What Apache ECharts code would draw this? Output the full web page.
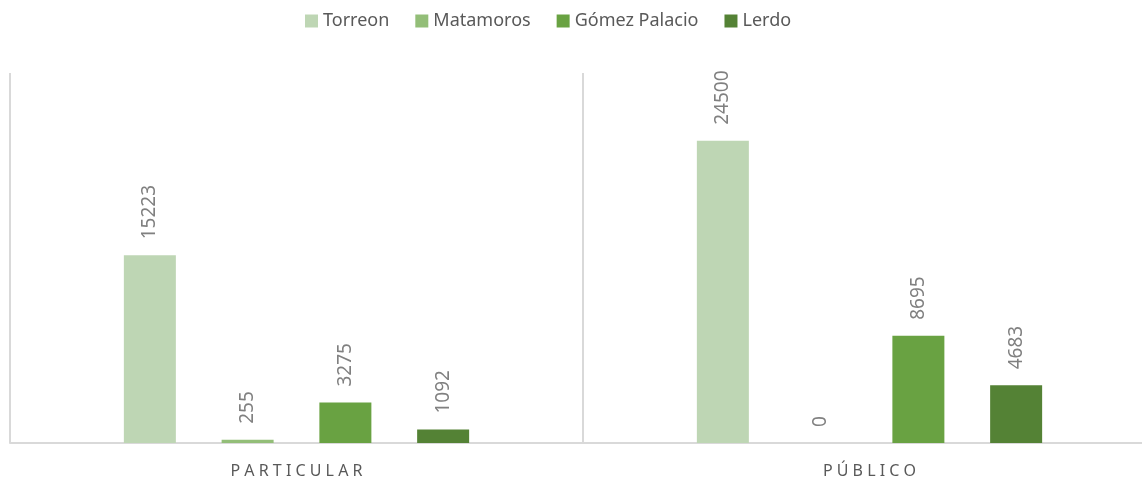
<!DOCTYPE html>
<html><head><meta charset="utf-8">
<script src="https://cdn.jsdelivr.net/npm/echarts@6/dist/echarts.min.js"></script>
<style>html,body{margin:0;padding:0;background:#fff}#c{width:1142px;height:480px}</style>
</head><body><div id="c"></div>
<script>
const categories = ['PARTICULAR', 'PÚBLICO'];
const seriesNames = ['Torreon', 'Matamoros', 'Gómez Palacio', 'Lerdo'];
const torreon = [15223, 24500];
const matamoros = [255, 0];
const gomezPalacio = [3275, 8695];
const lerdo = [1092, 4683];
const colors = ['#bed6b4', '#93be78', '#69a242', '#548235'];
const values = [torreon, matamoros, gomezPalacio, lerdo];

const chart = echarts.init(document.getElementById('c'));
chart.setOption({
  animation: false,
  textStyle: { fontFamily: 'Noto Sans' },
  legend: {
    top: 7, left: 300,
    itemWidth: 13, itemHeight: 13, itemGap: 26,
    icon: 'rect',
    textStyle: { color: '#595959', fontSize: 18 },
    data: seriesNames
  },
  grid: { left: 10, top: 73, width: 1146, height: 370, containLabel: false, outerBoundsMode: 'none' },
  xAxis: {
    type: 'category', data: categories,
    axisLine: { lineStyle: { color: '#d9d9d9', width: 2 } },
    axisTick: { show: false },
    splitLine: { show: true, lineStyle: { color: '#d9d9d9', width: 2 } },
    axisLabel: {
      color: '#595959', fontSize: 16, margin: 20,
      formatter: v => v.split('').join(' ')
    }
  },
  yAxis: { type: 'value', min: 0, max: 30000, show: false, splitLine: { show: false } },
  series: values.map((d, i) => ({
    name: seriesNames[i], type: 'bar', data: d,
    barWidth: 52, barGap: '88%',
    itemStyle: { color: colors[i] },
    label: {
      show: true, position: 'top', rotate: 90, align: 'left', verticalAlign: 'middle',
      distance: 16, color: '#808080', fontSize: 19
    }
  }))
});
</script></body></html>
